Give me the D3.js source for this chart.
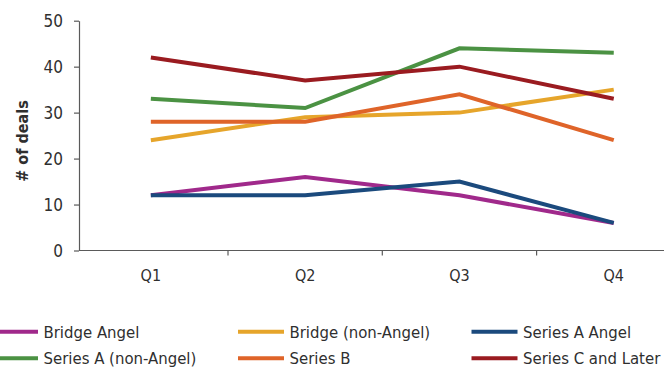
<!DOCTYPE html>
<html>
<head>
<meta charset="utf-8">
<script src="https://cdn.jsdelivr.net/npm/d3@7/dist/d3.min.js"></script>
<style>
  html, body { margin: 0; padding: 0; background: #fff; }
  svg { display: block; }
  text { font-family: "DejaVu Sans Condensed", "DejaVu Sans", sans-serif; font-stretch: condensed; }
</style>
</head>
<body>
<svg id="chart" width="664" height="370"></svg>
<script>
// Quarterly deal counts by financing type
const quarters = ["Q1", "Q2", "Q3", "Q4"];
const seriesNames = [
  "Bridge Angel",
  "Bridge (non-Angel)",
  "Series A Angel",
  "Series A (non-Angel)",
  "Series B",
  "Series C and Later"
];
const bridgeAngel = [12, 16, 12, 6];
const bridgeNonAngel = [24, 29, 30, 35];
const seriesAAngel = [12, 12, 15, 6];
const seriesANonAngel = [33, 31, 44, 43];
const seriesB = [28, 28, 34, 24];
const seriesCLater = [42, 37, 40, 33];
const yTicks = [0, 10, 20, 30, 40, 50];
const seriesColors = ["#a0298b", "#e6a52b", "#1b4a7d", "#4b9243", "#df6429", "#9a1b20"];

const seriesValues = [bridgeAngel, bridgeNonAngel, seriesAAngel, seriesANonAngel, seriesB, seriesCLater];
const series = seriesNames.map((name, i) => ({
  name,
  color: seriesColors[i],
  values: quarters.map((q, j) => ({ q, v: seriesValues[i][j] }))
}));

const svg = d3.select("#chart");
const axisColor = "#5a5a5a";
const textColor = "#2f2f2f";

const x = d3.scaleBand().domain(quarters).range([73.7, 690.9]);
const y = d3.scaleLinear().domain([0, 50]).range([250.5, 20.7]);
const cx = q => x(q) + x.bandwidth() / 2;

// y axis
const yAxis = svg.append("g")
  .attr("transform", "translate(79,0)")
  .call(d3.axisLeft(y).tickValues(yTicks).tickSize(5).tickPadding(11).tickSizeOuter(0));
yAxis.select(".domain").attr("stroke", axisColor).attr("stroke-width", 1.2);
yAxis.selectAll(".tick line").attr("stroke", axisColor).attr("stroke-width", 1.2);
yAxis.selectAll(".tick text")
  .attr("fill", textColor)
  .style("font-size", "17px")
  .attr("dy", "0.36em");

// x axis: tick marks at category boundaries, labels under each category
const xAxisG = svg.append("g").attr("transform", "translate(0,250.5)");
xAxisG.append("line")
  .attr("x1", 79).attr("x2", 664)
  .attr("stroke", axisColor).attr("stroke-width", 1.2);
xAxisG.selectAll("line.qtick")
  .data(quarters.slice(1))
  .join("line")
  .attr("class", "qtick")
  .attr("x1", d => x(d)).attr("x2", d => x(d))
  .attr("y1", 0).attr("y2", 5)
  .attr("stroke", axisColor).attr("stroke-width", 1.2);
xAxisG.selectAll("text.qlabel")
  .data(quarters)
  .join("text")
  .attr("class", "qlabel")
  .attr("x", d => cx(d))
  .attr("y", 30.5)
  .attr("text-anchor", "middle")
  .attr("fill", textColor)
  .style("font-size", "16px")
  .text(d => d);

// y axis title
svg.append("text")
  .attr("transform", "translate(27.5,141) rotate(-90)")
  .attr("text-anchor", "middle")
  .attr("fill", textColor)
  .style("font-size", "16px")
  .style("font-weight", "bold")
  .text("# of deals");

// lines
const line = d3.line().x(d => cx(d.q)).y(d => y(d.v));
svg.append("g").selectAll("path")
  .data(series)
  .join("path")
  .attr("d", d => line(d.values))
  .attr("fill", "none")
  .attr("stroke", d => d.color)
  .attr("stroke-width", 4)
  .attr("stroke-linejoin", "miter");

// legend: 3 columns, 2 rows
const legendCols = [-8, 238, 471.5];
const legendRows = [331.7, 358.3];
const legend = svg.append("g").selectAll("g")
  .data(series)
  .join("g")
  .attr("transform", (d, i) => `translate(${legendCols[i % 3]},${legendRows[Math.floor(i / 3)]})`);
legend.append("line")
  .attr("x1", 0).attr("x2", 46)
  .attr("stroke", d => d.color)
  .attr("stroke-width", 4);
legend.append("text")
  .attr("x", 51.5)
  .attr("y", 6)
  .attr("fill", textColor)
  .style("font-size", "16.6px")
  .text(d => d.name);
</script>
</body>
</html>
